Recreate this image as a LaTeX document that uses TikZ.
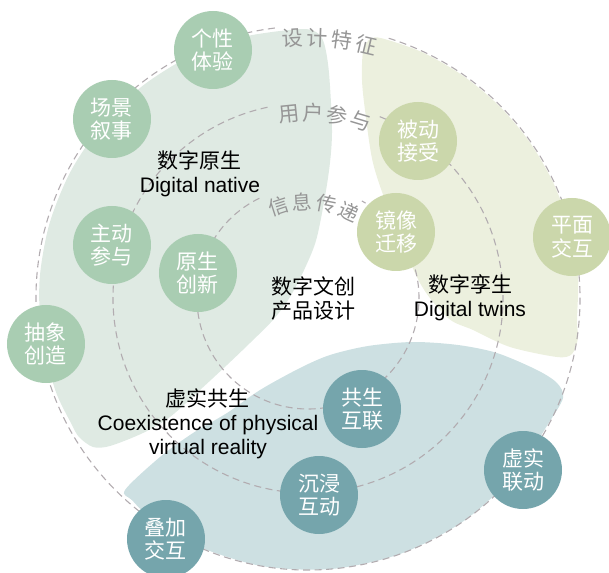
\documentclass[tikz,border=0pt]{standalone}
\usepackage{fontspec}
\setmainfont{Liberation Sans}
\newfontfamily\cjk{Noto Sans CJK SC}
\usetikzlibrary{calc}

\definecolor{nativeblob}{RGB}{223,234,227}
\definecolor{nativedot}{RGB}{169,205,178}
\definecolor{twinblob}{RGB}{236,240,222}
\definecolor{twindot}{RGB}{203,215,171}
\definecolor{coexblob}{RGB}{205,224,226}
\definecolor{coexdot}{RGB}{117,165,172}
\definecolor{ringline}{RGB}{178,172,176}
\definecolor{ringtext}{RGB}{150,150,150}

\begin{document}
\begin{tikzpicture}[x=1pt,y=1pt,
  bubble/.style={circle, minimum size=78pt, inner sep=0pt, text=white,
    font=\cjk\fontsize{21}{23.5}\selectfont, align=center},
  ring/.style={draw=ringline, line width=1.1pt, dash pattern=on 7pt off 4.5pt},
  caption/.style={align=center, inner sep=0pt, text=black,
    font=\fontsize{21}{24}\selectfont},
  cjkcaption/.style={caption, font=\cjk\fontsize{21}{24}\selectfont},
  ringchar/.style={text=ringtext, inner sep=0pt,
    font=\cjk\fontsize{21}{21}\selectfont},
  smallringchar/.style={ringchar, font=\cjk\fontsize{20}{20}\selectfont}
]
% page frame, centred on the common centre of the rings
\useasboundingbox (-308,-274) rectangle (301,298);
\coordinate (centre) at (0,0);

% ---- coloured regions ----
\fill[nativeblob] plot[smooth cycle, tension=0.5] coordinates {
  (92:269) (104:269) (116:269) (128:269) (140:269) (152:269) (164:269)
  (176:269) (188:269) (200:269) (208:268) (-229,-139) (-215,-149)
  (-198,-148) (-165,-135) (-138,-119) (-108,-92) (-81,-67) (-58,-45)
  (-35,-22) (-18,1) (-3,30) (9,61) (20,120) (24,165) (21,225) (16,255)
  (8,266)};

\fill[twinblob] plot[smooth cycle, tension=0.5] coordinates {
  (74:270) (62,259) (55,246) (54,218) (57,188) (65,135) (82,85) (112,15)
  (140,-20) (165,-32) (202,-49) (249,-59) (264,-56) (270,-40) (-5:270)
  (5:271) (15:271) (25:271) (35:271) (45:271) (55:271) (65:271)};

\fill[coexblob] plot[smooth cycle, tension=0.5] coordinates {
  (-183,-192) (-148,-159) (-115,-135) (-81,-115) (-48,-92) (-8,-70)
  (22,-57) (60,-48) (105,-44) (150,-47) (189,-55) (229,-72) (249,-85)
  (255,-100) (-28:271) (-40:272) (-55:272) (-70:272) (-85:272)
  (-100:272) (-115:272) (-125:271) (-131:268)};

% ---- dashed rings, open where their titles sit ----
\draw[ring] (97:272) arc[start angle=97, end angle=433, radius=272];
\draw[ring] (102:195) arc[start angle=102, end angle=429, radius=195];
\draw[ring] (116:111) arc[start angle=116, end angle=421, radius=111];

% ---- ring titles, set letter by letter along the rings ----
\foreach \ch/\ang [count=\i] in {设/93.4, 计/87.9, 特/82.4, 征/76.9}
  \node[ringchar, rotate=\ang-90] (outer\i) at (\ang:260) {\ch};
\foreach \ch/\ang [count=\i] in {用/95.8, 户/88.3, 参/80.8, 与/73.3}
  \node[ringchar, rotate=\ang-90] (middle\i) at (\ang:185) {\ch};
\foreach \ch/\ang [count=\i] in {信/108, 息/93.5, 传/79, 递/64.5}
  \node[smallringchar, rotate=\ang-90] (inner\i) at (\ang:96) {\ch};

% ---- captions ----
\node[caption] (native) at (-108,124) {{\cjk 数字原生}\\Digital native};
\node[cjkcaption] (core) at (5,-1) {数字文创\\产品设计};
\node[caption] (twin) at (162,0) {{\cjk 数字孪生}\\Digital twins};
\node[caption] (coex) at (-100,-126)
  {{\cjk 虚实共生}\\Coexistence of physical\\virtual reality};

% ---- bubbles ----
\node[bubble, fill=nativedot] (gexing)   at (-95,248)  {个性\\体验};
\node[bubble, fill=nativedot] (changjing) at (-196,179) {场景\\叙事};
\node[bubble, fill=nativedot] (zhudong)  at (-196,53)  {主动\\参与};
\node[bubble, fill=nativedot] (yuansheng) at (-110,25) {原生\\创新};
\node[bubble, fill=nativedot] (chouxiang) at (-262,-46) {抽象\\创造};

\node[bubble, fill=twindot] (beidong)  at (110,157) {被动\\接受};
\node[bubble, fill=twindot] (jingxiang) at (88,66)  {镜像\\迁移};
\node[bubble, fill=twindot] (pingmian) at (264,61)  {平面\\交互};

\node[bubble, fill=coexdot] (gongsheng) at (54,-111)  {共生\\互联};
\node[bubble, fill=coexdot] (chenjin)   at (11,-197)  {沉浸\\互动};
\node[bubble, fill=coexdot] (xushi)     at (215,-172) {虚实\\联动};
\node[bubble, fill=coexdot] (diejia)    at (-142,-241) {叠加\\交互};
\end{tikzpicture}
\end{document}
